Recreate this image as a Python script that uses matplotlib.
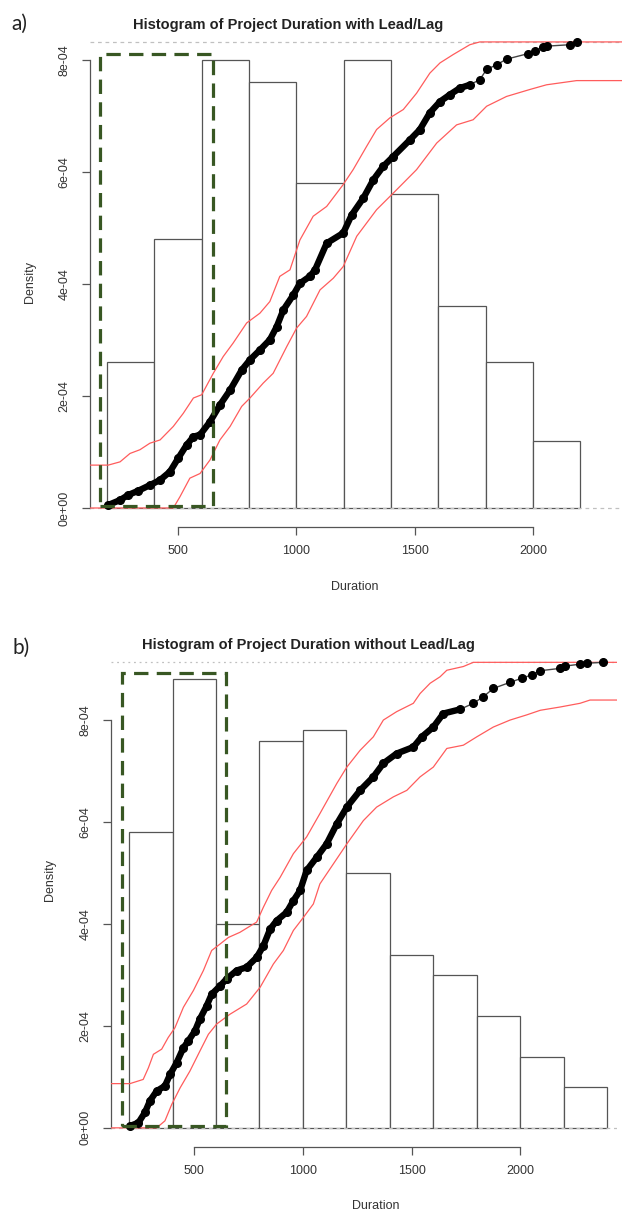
import matplotlib; matplotlib.use('Agg')
import matplotlib.pyplot as plt
from matplotlib.patches import Rectangle
import numpy as np

# ── 1. Data ───────────────────────────────────────────────────────────────────
a_breaks  = [200, 400, 600, 800, 1000, 1200, 1400, 1600, 1800, 2000, 2200]
a_density = [2.6e-4, 4.8e-4, 8.0e-4, 7.6e-4, 5.8e-4, 8.0e-4, 5.6e-4, 3.6e-4, 2.6e-4, 1.2e-4]

b_breaks  = [200, 400, 600, 800, 1000, 1200, 1400, 1600, 1800, 2000, 2200, 2400]
b_density = [5.8e-4, 8.8e-4, 4.0e-4, 7.6e-4, 7.8e-4, 5.0e-4, 3.4e-4, 3.0e-4, 2.2e-4, 1.4e-4, 0.8e-4]

# empirical CDF of duration (panel a) and its confidence band
a_ecdf_x = [203, 255, 290, 332, 381, 424, 466, 501, 536, 565, 593, 635, 677, 720, 769,
            804, 846, 888, 917, 945, 987, 1015, 1057, 1079, 1128, 1198, 1234, 1283, 1325,
            1367, 1409, 1480, 1522, 1564, 1607, 1649, 1691, 1733, 1775, 1804, 1846, 1888,
            1980, 2010, 2043, 2060, 2156, 2184]
a_ecdf_f = [0.006, 0.017, 0.028, 0.037, 0.049, 0.060, 0.078, 0.107, 0.135, 0.153, 0.157,
            0.185, 0.221, 0.253, 0.296, 0.318, 0.339, 0.361, 0.389, 0.425, 0.457, 0.482,
            0.497, 0.511, 0.568, 0.590, 0.629, 0.665, 0.704, 0.733, 0.754, 0.790, 0.812,
            0.848, 0.872, 0.887, 0.901, 0.908, 0.919, 0.941, 0.951, 0.963, 0.975, 0.981,
            0.989, 0.991, 0.994, 1.0]
a_up_x = [128, 205, 255, 297, 339, 381, 424, 480, 522, 565, 600, 649, 691, 733, 790, 846,
          888, 930, 973, 1015, 1071, 1128, 1198, 1240, 1297, 1339, 1395, 1452, 1508, 1564,
          1607, 1663, 1733, 1775, 2400]
a_up_f = [0.092, 0.092, 0.099, 0.117, 0.125, 0.139, 0.146, 0.175, 0.203, 0.236, 0.243,
          0.289, 0.325, 0.354, 0.397, 0.418, 0.443, 0.497, 0.511, 0.575, 0.626, 0.647,
          0.694, 0.726, 0.776, 0.812, 0.837, 0.855, 0.890, 0.933, 0.955, 0.973, 0.994,
          1.0, 1.0]
a_lo_x = [128, 480, 508, 550, 593, 635, 677, 720, 769, 804, 860, 902, 959, 1001, 1043,
          1100, 1156, 1198, 1255, 1339, 1424, 1508, 1593, 1677, 1747, 1804, 1888, 1987,
          2057, 2156, 2184, 2400]
a_lo_f = [0.0, 0.0, 0.024, 0.064, 0.074, 0.103, 0.146, 0.175, 0.218, 0.236, 0.268, 0.289,
          0.346, 0.386, 0.411, 0.468, 0.493, 0.518, 0.583, 0.640, 0.683, 0.726, 0.783,
          0.822, 0.833, 0.862, 0.883, 0.898, 0.908, 0.915, 0.917, 0.917]

# panel b
b_ecdf_x = [204, 243, 273, 296, 327, 365, 389, 419, 450, 473, 503, 526, 557, 580, 619,
            649, 695, 741, 787, 818, 849, 879, 925, 956, 987, 1017, 1063, 1109, 1156, 1202,
            1263, 1324, 1370, 1431, 1508, 1547, 1600, 1646, 1723, 1784, 1830, 1876, 1953,
            2007, 2053, 2092, 2183, 2206, 2275, 2306, 2382]
b_ecdf_f = [0.004, 0.011, 0.033, 0.058, 0.079, 0.090, 0.115, 0.140, 0.172, 0.187, 0.208,
            0.234, 0.262, 0.287, 0.305, 0.320, 0.338, 0.345, 0.366, 0.391, 0.427, 0.445,
            0.463, 0.488, 0.510, 0.553, 0.581, 0.610, 0.653, 0.689, 0.725, 0.754, 0.783,
            0.804, 0.818, 0.840, 0.861, 0.890, 0.899, 0.912, 0.926, 0.944, 0.957, 0.966,
            0.973, 0.982, 0.987, 0.992, 0.996, 0.998, 1.0]
b_up_x = [115, 204, 265, 289, 312, 350, 380, 411, 450, 496, 542, 580, 619, 657, 710, 787,
          818, 856, 895, 956, 1017, 1078, 1156, 1202, 1263, 1324, 1370, 1431, 1508, 1539,
          1585, 1631, 1662, 1738, 1784, 2450]
b_up_f = [0.095, 0.095, 0.104, 0.129, 0.158, 0.169, 0.194, 0.215, 0.259, 0.295, 0.338,
          0.381, 0.395, 0.409, 0.420, 0.442, 0.474, 0.510, 0.538, 0.589, 0.625, 0.675,
          0.740, 0.775, 0.811, 0.840, 0.876, 0.894, 0.912, 0.933, 0.955, 0.969, 0.983,
          0.991, 1.0, 1.0]
b_lo_x = [115, 327, 365, 396, 435, 480, 526, 565, 603, 664, 741, 803, 864, 910, 956, 1002,
          1048, 1078, 1140, 1202, 1278, 1339, 1416, 1478, 1539, 1600, 1662, 1738, 1800,
          1876, 1953, 2029, 2092, 2183, 2275, 2321, 2450]
b_lo_f = [0.0, 0.0, 0.015, 0.050, 0.086, 0.122, 0.165, 0.201, 0.223, 0.244, 0.266, 0.302,
          0.352, 0.381, 0.424, 0.452, 0.481, 0.524, 0.567, 0.610, 0.660, 0.689, 0.711,
          0.725, 0.754, 0.775, 0.815, 0.822, 0.840, 0.861, 0.876, 0.887, 0.897, 0.904,
          0.912, 0.919, 0.919]

# highlighted region (green dashed box): x0, x1, y0, y1
a_box = [170, 646, 0.04e-4, 8.1e-4]
b_box = [166, 645, 0.03e-4, 8.92e-4]

x_ticks = [500, 1000, 1500, 2000]
y_ticks = [0, 2e-4, 4e-4, 6e-4, 8e-4]
y_tick_labels = ['0e+00', '2e-04', '4e-04', '6e-04', '8e-04']

# ── 2. Figure ────────────────────────────────────────────────────────────────
W, H = 622, 1213
fig = plt.figure(figsize=(W / 100, H / 100), dpi=100)
plt.rcParams['font.family'] = ['Liberation Sans', 'DejaVu Sans']

AX_COL = '#555555'
TXT_COL = '#333333'
RED = '#ff5c5c'
GREEN = '#385723'


def px_rect(l, t, r, b):
    return [l / W, 1 - b / H, (r - l) / W, (b - t) / H]


def panel(rect, xlim, ylim, ftop, breaks, dens, ex, ef, ux, uf, lx, lf, box, top_ls):
    ax = fig.add_axes(rect)
    ax.set_xlim(xlim)
    ax.set_ylim(ylim)
    ax.bar(breaks[:-1], dens, width=np.diff(breaks), align='edge',
           facecolor='white', edgecolor=AX_COL, linewidth=0.9)
    for s in ['top', 'right']:
        ax.spines[s].set_visible(False)
    for s in ['left', 'bottom']:
        ax.spines[s].set_color(AX_COL)
        ax.spines[s].set_linewidth(0.9)
    ax.spines['left'].set_bounds(0, 8e-4)
    ax.spines['bottom'].set_bounds(500, 2000)
    ax.set_xticks(x_ticks)
    ax.set_yticks(y_ticks)
    ax.set_yticklabels(y_tick_labels, rotation=90, va='center')
    ax.tick_params(direction='out', length=6, width=0.9, color=AX_COL,
                   labelsize=9, labelcolor=TXT_COL)
    ax.tick_params(axis='x', pad=7)
    ax.tick_params(axis='y', pad=8)

    # ECDF overlay on its own 0..1 scale
    ax2 = ax.twinx()
    ax2.set_ylim(ylim[0] / ftop, ylim[1] / ftop)
    ax2.set_axis_off()
    ax2.axhline(0, color='#c0c0c0', lw=0.9, ls=(0, (3, 3)))
    ax2.axhline(1, color='#c0c0c0', lw=0.9, ls=top_ls)
    ax2.plot(ux, uf, color=RED, lw=0.9)
    ax2.plot(lx, lf, color=RED, lw=0.9)
    ex = np.array(ex); ef = np.array(ef)
    dense = ef <= 0.91
    ax2.plot(ex, ef, color='#444444', lw=1.0)
    ax2.plot(ex[dense], ef[dense], color='black', lw=4.6, solid_capstyle='round',
             solid_joinstyle='round')
    ax2.plot(ex, ef, 'o', color='black', ms=5.5)

    x0, x1, y0, y1 = box
    ax2.add_patch(Rectangle((x0, y0), x1 - x0, y1 - y0, transform=ax.transData,
                            fill=False, edgecolor=GREEN, lw=2.3,
                            linestyle=(0, (4.5, 2.6)), zorder=10))
    return ax


# panel a
panel(px_rect(90, 38, 622, 526.7), (128, 2376), (-0.334e-4, 8.39e-4), 8.32e-4,
      a_breaks, a_density, a_ecdf_x, a_ecdf_f, a_up_x, a_up_f, a_lo_x, a_lo_f,
      a_box, (0, (3, 3)))
fig.text(288 / W, 1 - 25 / H, 'Histogram of Project Duration with Lead/Lag',
         ha='center', va='center', fontsize=10.5, fontweight='bold', color='#222222')
fig.text(355 / W, 1 - 587 / H, 'Duration', ha='center', va='center',
         fontsize=9, color=TXT_COL)
fig.text(30 / W, 1 - 282 / H, 'Density', ha='center', va='center', rotation=90,
         fontsize=9, color=TXT_COL)
fig.text(11 / W, 1 - 24 / H, 'a)', ha='left', va='center', fontsize=15,
         family=['Lato', 'DejaVu Sans'], color='#222222')

# panel b
panel(px_rect(110.7, 658, 617, 1146.7), (115.5, 2445), (-0.37e-4, 9.22e-4), 9.135e-4,
      b_breaks, b_density, b_ecdf_x, b_ecdf_f, b_up_x, b_up_f, b_lo_x, b_lo_f,
      b_box, (0, (1.5, 3)))
fig.text(308 / W, 1 - 645 / H, 'Histogram of Project Duration without Lead/Lag',
         ha='center', va='center', fontsize=10.5, fontweight='bold', color='#222222')
fig.text(376 / W, 1 - 1206 / H, 'Duration', ha='center', va='center',
         fontsize=9, color=TXT_COL)
fig.text(50 / W, 1 - 880 / H, 'Density', ha='center', va='center', rotation=90,
         fontsize=9, color=TXT_COL)
fig.text(12 / W, 1 - 648 / H, 'b)', ha='left', va='center', fontsize=15,
         family=['Lato', 'DejaVu Sans'], color='#222222')

plt.savefig('out.png', dpi=100)
plt.close()
